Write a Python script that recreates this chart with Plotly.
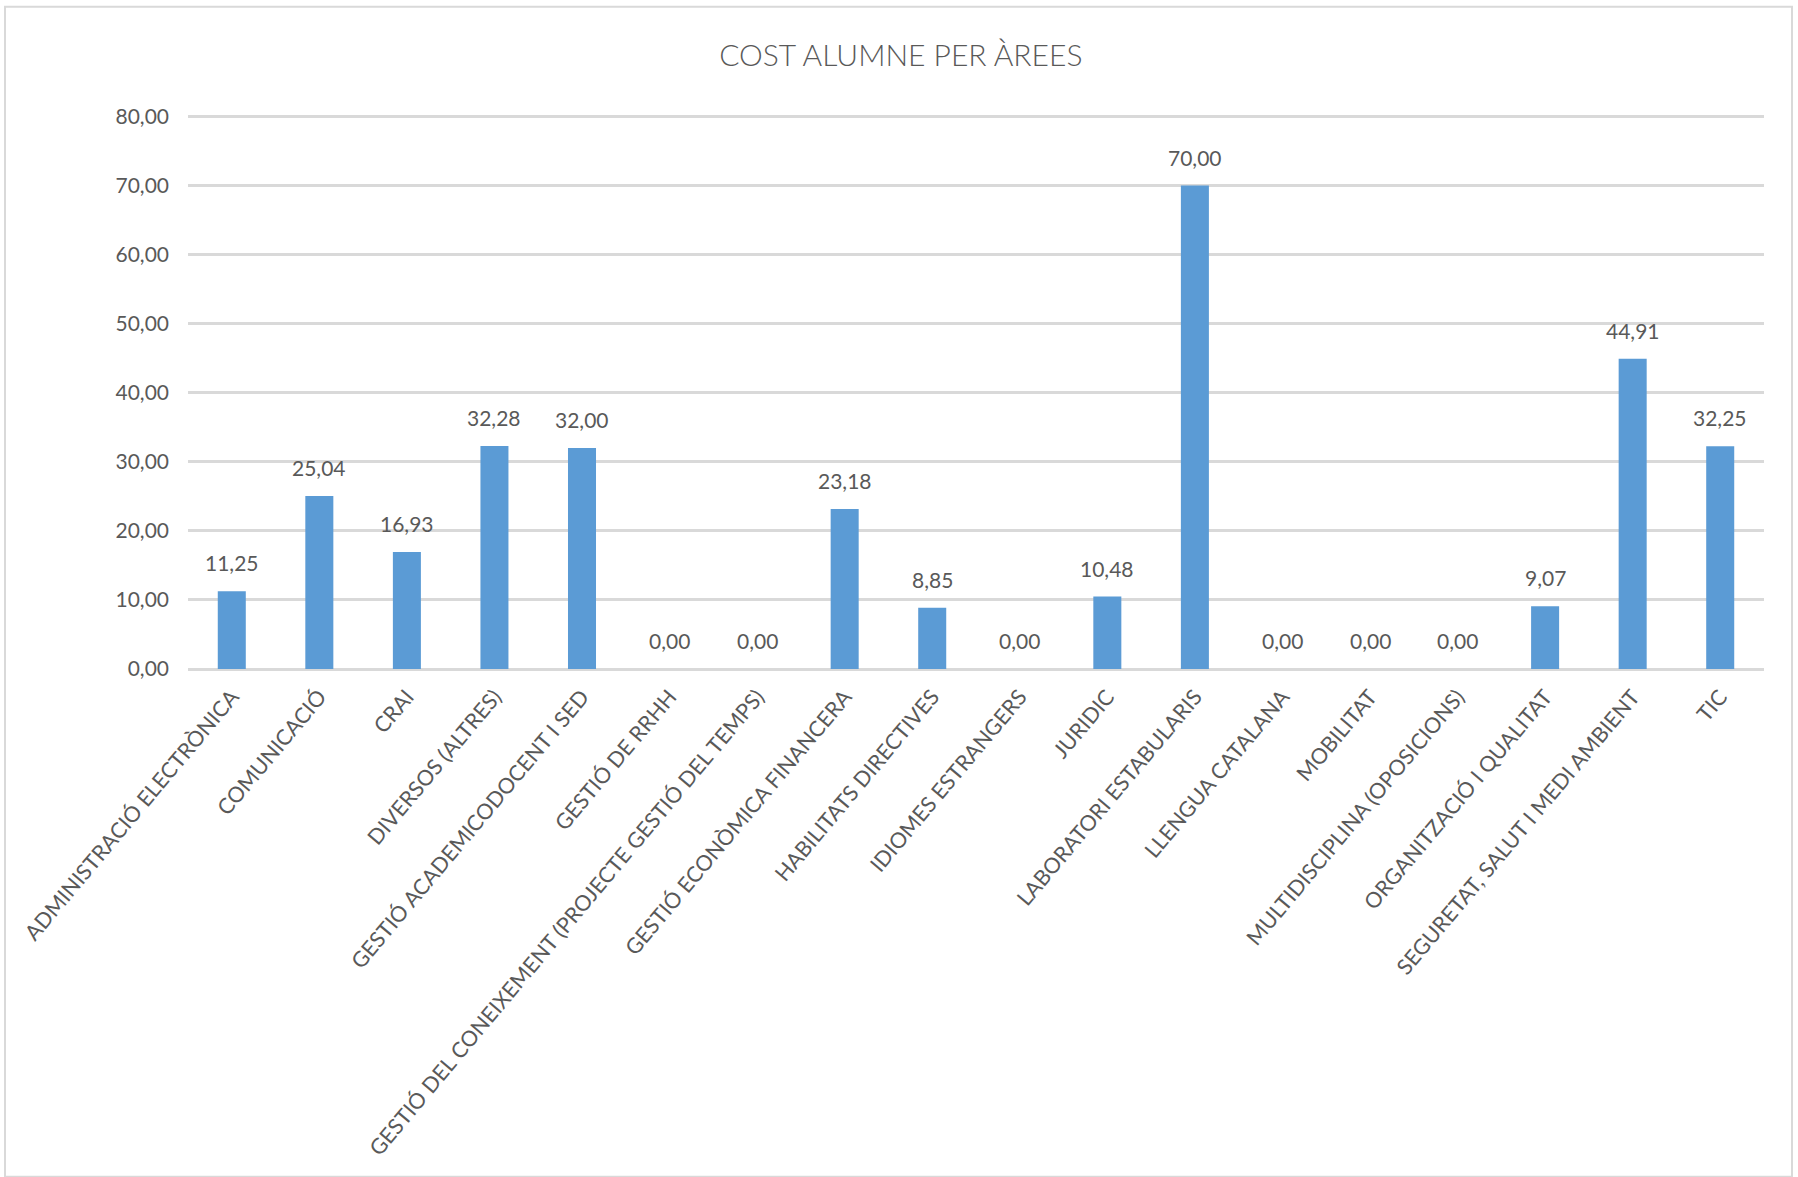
import plotly.graph_objects as go

categories = [
    "ADMINISTRACIÓ ELECTRÒNICA", "COMUNICACIÓ", "CRAI", "DIVERSOS (ALTRES)",
    "GESTIÓ ACADEMICODOCENT I SED", "GESTIÓ DE RRHH",
    "GESTIÓ DEL CONEIXEMENT (PROJECTE GESTIÓ DEL TEMPS)",
    "GESTIÓ ECONÒMICA FINANCERA", "HABILITATS DIRECTIVES", "IDIOMES ESTRANGERS",
    "JURIDIC", "LABORATORI ESTABULARIS", "LLENGUA CATALANA", "MOBILITAT",
    "MULTIDISCIPLINA (OPOSICIONS)", "ORGANITZACIÓ I QUALITAT",
    "SEGURETAT, SALUT I MEDI AMBIENT", "TIC",
]
values = [11.25, 25.04, 16.93, 32.28, 32.00, 0.00, 0.00, 23.18, 8.85, 0.00,
          10.48, 70.00, 0.00, 0.00, 0.00, 9.07, 44.91, 32.25]
y_ticks = [0, 10, 20, 30, 40, 50, 60, 70, 80]
title_text = "COST ALUMNE PER ÀREES"

TXT = "#595959"
GRID = "#d9d9d9"
FONT = "Lato"

fig = go.Figure()
fig.add_trace(go.Bar(
    x=categories, y=values,
    marker=dict(color="#5B9BD5", line=dict(width=0)),
    hoverinfo="skip",
))

for c, v in zip(categories, values):
    fig.add_annotation(
        x=c, y=v, xref="x", yref="y",
        text=f"{v:.2f}".replace(".", ","),
        showarrow=False, yanchor="bottom", yshift=14,
        font=dict(family=FONT, size=21, color=TXT),
    )

# plot area in pixels: x 188..1764, y(80)=116.7, y(0)=668.7 ; range top 80.5
H, W = 1177, 1798
top_px, bot_px = 113.25, 668.7
left_px, right_px = 188, 1764
ph = bot_px - top_px
pw = right_px - left_px

# outer chart border
fig.add_shape(type="rect", xref="paper", yref="paper",
              x0=(5 - left_px) / pw, x1=(1792 - left_px) / pw,
              y0=(bot_px - 1176) / ph, y1=(bot_px - 7) / ph,
              line=dict(color=GRID, width=2), fillcolor="rgba(0,0,0,0)", layer="below")

fig.update_layout(
    width=W, height=H,
    margin=dict(l=left_px, r=W - right_px, t=top_px, b=H - bot_px, autoexpand=False),
    paper_bgcolor="white", plot_bgcolor="white",
    separators=",.",
    bargap=0.68,
    showlegend=False,
    title=dict(text=title_text, x=0.501, xanchor="center", y=1 - 55.5 / H,
               yanchor="middle", yref="container",
               font=dict(family=FONT, size=30, color=TXT, weight=300)),
    xaxis=dict(
        tickangle=-50, showgrid=False, showline=False, ticks="",
        ticklabelstandoff=10,
        tickfont=dict(family=FONT, size=21.5, color=TXT),
    ),
    yaxis=dict(
        range=[0, 80.5], tickvals=y_ticks, tickformat=".2f",
        showgrid=True, gridcolor=GRID, gridwidth=2.5,
        zeroline=True, zerolinecolor=GRID, zerolinewidth=2.5,
        showline=False, ticks="", ticklabelstandoff=18,
        tickfont=dict(family=FONT, size=21, color=TXT),
    ),
)

fig.write_html("out.html", config={"displayModeBar": False},
               post_script="document.body.style.margin='0px';")
